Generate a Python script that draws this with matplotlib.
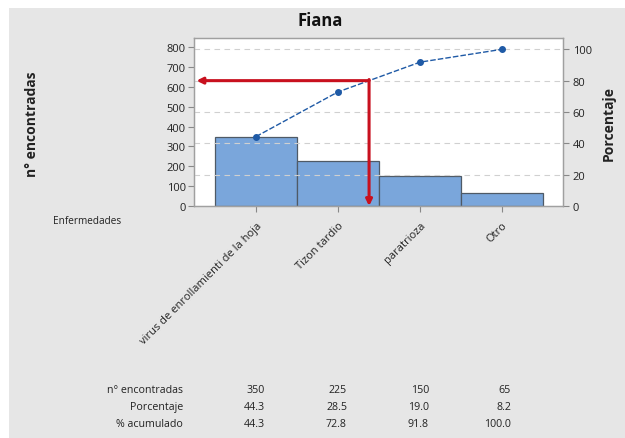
import matplotlib
matplotlib.use("Agg")
import matplotlib.pyplot as plt
import matplotlib.transforms as mtransforms
from matplotlib.patches import Rectangle
import numpy as np

categories = ["virus de enrollamienti de la hoja", "Tizon tardio", "paratrioza", "Otro"]
counts = [350, 225, 150, 65]
percent = [44.3, 28.5, 19.0, 8.2]
cumulative = [44.3, 72.8, 91.8, 100.0]
left_ticks = [0, 100, 200, 300, 400, 500, 600, 700, 800]
right_ticks = [0, 20, 40, 60, 80, 100]
threshold = 80

plt.rcParams['font.family'] = ['Open Sans', 'DejaVu Sans']

W, H = 625, 439
fig = plt.figure(figsize=(W / 100, H / 100), dpi=100)
fig.patch.set_facecolor('white')
fig.patches.append(Rectangle((9 / W, 0), 1 - 9 / W, 1 - 9 / H, transform=fig.transFigure,
                             facecolor='#e6e6e6', edgecolor='none', zorder=-10))

ax = fig.add_axes([194 / W, 1 - 207 / H, (563 - 194) / W, (207 - 39) / H])
ax.set_facecolor('white')
ax2 = ax.twinx()

total = sum(counts)
x = np.arange(len(categories))
top_count = 847
ax.set_ylim(0, top_count)
ax2.set_ylim(0, top_count / total * 100)
ax.set_xlim(-0.756, len(categories) - 1 + 0.744)

ax.bar(x, counts, width=1.0, color='#7aa6db', edgecolor='#4f5a66', linewidth=0.9, zorder=2)

for t in right_ticks[1:]:
    ax2.axhline(t, color='#d0d0d0', linestyle=(0, (5, 4)), linewidth=0.8, zorder=0)

ax2.plot(x, cumulative, color='#1f5aa6', linestyle=(0, (4, 1.5)), linewidth=1.0,
         marker='o', markersize=4, zorder=3)

# crossing of the cumulative line with the threshold
i = int(np.searchsorted(cumulative, threshold))
xc = x[i - 1] + (threshold - cumulative[i - 1]) / (cumulative[i] - cumulative[i - 1])
red = '#c8101e'
xl = ax.get_xlim()[0]
ax2.annotate('', xy=(xl + 0.03, threshold), xytext=(xc, threshold),
             arrowprops=dict(arrowstyle='-|>', color=red, lw=2.2, mutation_scale=9,
                             shrinkA=0, shrinkB=0), zorder=5, annotation_clip=False)
ax2.annotate('', xy=(xc, 0), xytext=(xc, threshold + 0.7),
             arrowprops=dict(arrowstyle='-|>', color=red, lw=2.2, mutation_scale=9,
                             shrinkA=0, shrinkB=0), zorder=5, annotation_clip=False)

ax.set_yticks(left_ticks)
ax2.set_yticks(right_ticks)
ax.set_xticks(x)
ax.set_xticklabels(categories, rotation=45, ha='right', rotation_mode='anchor',
                   fontsize=8, color='#222222')
ax.tick_params(axis='x', length=4, width=0.8, color='#888888', pad=6)
ax.tick_params(axis='y', length=4, width=0.8, color='#888888', labelsize=8, labelcolor='#222222', pad=2)
ax2.tick_params(axis='y', length=4, width=0.8, color='#888888', labelsize=8, labelcolor='#222222', pad=3)

for a in (ax, ax2):
    for s in a.spines.values():
        s.set_color('#a0a0a0')
        s.set_linewidth(0.9)

fig.text(320 / W, 1 - 21 / H, 'Fiana', ha='center', va='center', fontsize=12,
         fontweight='bold', color='#111111')
fig.text(32 / W, 1 - 124 / H, 'n° encontradas', rotation=90, ha='center', va='center',
         fontsize=10, fontweight='bold', color='#222222')
fig.text(609 / W, 1 - 124 / H, 'Porcentaje', rotation=90, ha='center', va='center',
         fontsize=10, fontweight='bold', color='#222222')
fig.text(53 / W, 1 - 222 / H, 'Enfermedades', ha='left', va='center', fontsize=7.2, color='#222222')

row_names = ['n° encontradas', 'Porcentaje', '% acumulado']
rows = [[str(v) for v in counts], [f'{v:.1f}' for v in percent], [f'{v:.1f}' for v in cumulative]]
row_y = [391, 408, 425]
trans = mtransforms.blended_transform_factory(ax.transData, fig.transFigure)
for name, vals, yy in zip(row_names, rows, row_y):
    fig.text(183 / W, 1 - yy / H, name, ha='right', va='center', fontsize=7.7, color='#222222')
    for xi, v in zip(x, vals):
        ax.text(xi + 0.11, 1 - yy / H, v, transform=trans, ha='right', va='center',
                fontsize=7.7, color='#222222', clip_on=False)

fig.savefig('out.png', dpi=100)
